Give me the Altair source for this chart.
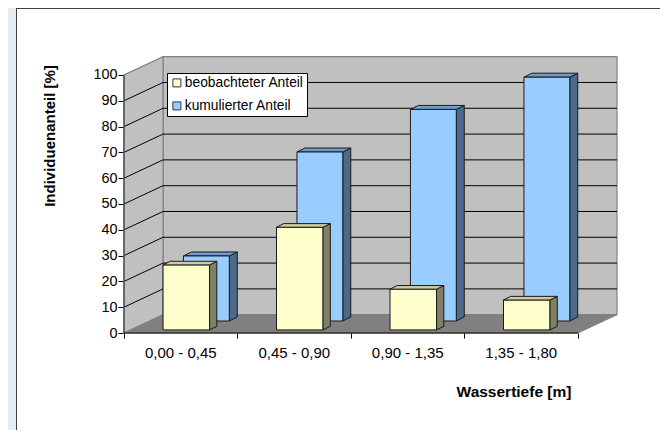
import altair as alt
import pandas as pd

# --- values
categories = ["0,00 - 0,45", "0,45 - 0,90", "0,90 - 1,35", "1,35 - 1,80"]
beobachtet = [25.2, 39.8, 15.8, 11.6]
kumuliert = [25.2, 65.5, 82.0, 94.5]
y_ticks = [0, 10, 20, 30, 40, 50, 60, 70, 80, 90, 100]
x_ticks = [0, 1, 2, 3, 4]
grid_vals = [10, 20, 30, 40, 50, 60, 70, 80, 90]
series_names = ["beobachteter Anteil", "kumulierter Anteil"]

# --- pseudo-3D geometry, in data units
WALL_DX, WALL_DY = 0.344, 7.1
X_MAX, Y_MAX = 4.344, 107.36
W, H = 493, 277
FONT = "Liberation Sans"
GRAY = "#808080"

xs = alt.Scale(domain=[0, X_MAX], nice=False, zero=False)
ys = alt.Scale(domain=[0, Y_MAX], nice=False, zero=False)
y_ax = alt.Axis(
    values=y_ticks, domain=False, grid=False, tickSize=6, tickColor="#000000",
    labelFont=FONT, labelFontSize=14.4, labelColor="#000000", labelPadding=1,
    title="Individuenanteil [%]", titleFont=FONT, titleFontSize=15, titleFontWeight="bold",
    titleColor="#000000", titleX=-75, titleY=79.5, titleAngle=270, titleAlign="center", titleBaseline="middle")
x_ax = alt.Axis(
    values=x_ticks, domain=False, grid=False, labels=False, tickSize=5, tickColor="#000000",
    title="Wassertiefe [m]", titleFont=FONT, titleFontSize=15.5, titleFontWeight="bold",
    titleColor="#000000", titleX=389.5, titleY=58.5, titleAlign="center", titleBaseline="middle")
X = lambda f="x": alt.X(f"{f}:Q", scale=xs, axis=x_ax)
Y = lambda f="y": alt.Y(f"{f}:Q", scale=ys, axis=y_ax)

def faces(values, name, left, width, base, dx, dy):
    fronts, sides, tops = [], [], []
    for k, v in enumerate(values):
        x0, x1, y0, y1 = k + left, k + left + width, base, base + v
        fronts.append(dict(x=x0, x2=x1, y=y0, y2=y1, series=name))
        for xx, off in ((x1, 0), (x1 + dx, dy)):
            sides.append(dict(id=k, x=xx, y=y0 + off, y2=y1 + off))
        for xx, off in ((x0, 0), (x0 + dx, dy)):
            tops.append(dict(id=k, y=y1 + off, x=xx, x2=xx + width))
    return fronts, pd.DataFrame(sides), pd.DataFrame(tops)

f_blue, s_blue, t_blue = faces(kumuliert, series_names[1], 0.524, 0.404, 4.65, 0.07, 1.55)
f_yel, s_yel, t_yel = faces(beobachtet, series_names[0], 0.344, 0.41, 1.2, 0.064, 1.4)

one = pd.DataFrame({"a": [0]})

# page furniture
strip = alt.Chart(one).mark_rect(color="#e4ebf3").encode(
    x=alt.value(-116), x2=alt.value(-108), y=alt.value(-48), y2=alt.value(374))
border_l = alt.Chart(one).mark_rule(color="#404040").encode(
    x=alt.value(-107.5), y=alt.value(-48), y2=alt.value(374))
border_t = alt.Chart(one).mark_rule(color="#404040").encode(
    x=alt.value(-108), x2=alt.value(544), y=alt.value(-47.5))

# walls and floor
back = alt.Chart(pd.DataFrame([dict(x=WALL_DX, x2=X_MAX, y=WALL_DY, y2=100 + WALL_DY)])).mark_rect(
    fill="#c0c0c0", stroke=GRAY, strokeWidth=1.2).encode(x=X(), x2="x2:Q", y=Y(), y2="y2:Q")
left_wall = alt.Chart(pd.DataFrame([dict(x=0, y=0, y2=100), dict(x=WALL_DX, y=WALL_DY, y2=100 + WALL_DY)])).mark_area(
    fill="#c0c0c0", stroke=GRAY, strokeWidth=1.2).encode(x=X(), y=Y(), y2="y2:Q")
floor = alt.Chart(pd.DataFrame([dict(y=0, x=0, x2=4), dict(y=WALL_DY, x=WALL_DX, x2=X_MAX)])).mark_area(
    fill=GRAY, stroke=GRAY, orient="horizontal").encode(y=Y(), x=X(), x2="x2:Q")

grid_rows = []
for v in grid_vals:
    grid_rows += [dict(v=v, x=0, y=v), dict(v=v, x=WALL_DX, y=v + WALL_DY), dict(v=v, x=X_MAX, y=v + WALL_DY)]
grid = alt.Chart(pd.DataFrame(grid_rows)).mark_line(color="#000000", strokeWidth=1).encode(
    x=X(), y=Y(), detail="v:N")

# axis lines
y_line = alt.Chart(pd.DataFrame({"x": [0, 0], "y": [0, 100]})).mark_line(color="#555555", strokeWidth=1.5).encode(
    x=X(), y=Y())
x_line = alt.Chart(pd.DataFrame({"x": [0, 4], "y": [0, 0]})).mark_line(color="#000000", strokeWidth=1).encode(
    x=X(), y=Y())

cat_df = pd.DataFrame({"x": [i + 0.5 for i in range(len(categories))], "t": categories})
cat_text = alt.Chart(cat_df).mark_text(font=FONT, fontSize=15, color="#000000", baseline="middle").encode(
    x=X(), y=alt.value(296.5), text="t:N")

# bars
EDGE = dict(stroke="#1a1a1a", strokeWidth=1)
def side(df, col):
    return alt.Chart(df).mark_area(fill=col, **EDGE).encode(x=X(), y=Y(), y2="y2:Q", detail="id:N")
def top(df, col):
    return alt.Chart(df).mark_area(fill=col, orient="horizontal", **EDGE).encode(y=Y(), x=X(), x2="x2:Q", detail="id:N")

fronts = alt.Chart(pd.DataFrame(f_blue + f_yel)).mark_rect(**EDGE).encode(
    x=X(), x2="x2:Q", y=Y(), y2="y2:Q",
    color=alt.Color("series:N",
        scale=alt.Scale(domain=series_names, range=["#ffffcc", "#99ccff"]),
        legend=alt.Legend(title=None, orient="none", legendX=43, legendY=17, fillColor="#ffffff",
                          strokeColor="#000000", padding=3, rowPadding=8, symbolType="square",
                          symbolSize=64, symbolStrokeColor="#333333", symbolStrokeWidth=1, symbolOpacity=1,
                          labelFont=FONT, labelFontSize=13.8, labelColor="#000000", labelOffset=1,
                          zindex=1)))

chart = alt.layer(
    strip, border_l, border_t,
    back, left_wall, floor, grid,
    side(s_blue, "#4d6a8c"), top(t_blue, "#6f9ccb"),
    fronts,
    side(s_yel, "#808066"), top(t_yel, "#cccca3"),
    y_line, x_line, cat_text,
).properties(
    width=W, height=H, background="#ffffff",
    padding={"left": 116, "top": 48, "right": 43, "bottom": 97},
    autosize="none",
).configure_view(stroke=None)

chart.save("out.html", embed_options={"renderer": "svg", "actions": False})
